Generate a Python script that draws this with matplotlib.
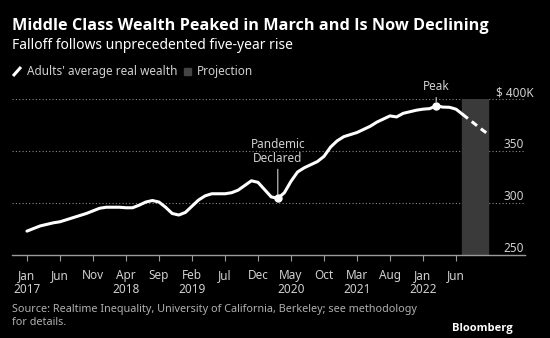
import numpy as np
import matplotlib
matplotlib.use("Agg")
import matplotlib.pyplot as plt
from matplotlib.lines import Line2D
from matplotlib.patches import Rectangle

plt.rcParams['font.family'] = ['Noto Sans', 'DejaVu Sans']

# Moyenne mensuelle de la richesse reelle (milliers de $), jan 2017 -> jul 2022
richesse = [273, 275.5, 278, 279.5, 281, 282, 284, 286, 288, 290,
            292.5, 295, 296, 296, 296, 295.5, 295.5, 298, 301, 302.5,
            301, 296, 290, 288.5, 291, 297, 303, 307, 309, 309,
            309, 310, 312.5, 317, 321.5, 320, 313, 306, 304.5, 310,
            321, 330, 334, 337, 340, 345, 354, 360, 364, 366,
            368, 371, 374, 378, 381, 384, 383, 386.5, 388, 389.5,
            390.5, 391, 393.7, 392.5, 392.3, 390.5, 385.5]
# Projection jul -> nov 2022
projection = [385.5, 380.5, 375.5, 370.5, 365.8]

mois = np.arange(len(richesse))
mois_proj = np.arange(len(richesse) - 1, len(richesse) - 1 + len(projection))

debut_proj, fin_proj = 66, 70
mois_pandemie = 38
mois_pic = 62

graduations = [0, 5, 10, 15, 20, 25, 30, 35, 40, 45, 50, 55, 60, 65]
etiquettes = ["Jan\n2017", "Jun", "Nov", "Apr\n2018", "Sep", "Feb\n2019", "Jul",
              "Dec", "May\n2020", "Oct", "Mar\n2021", "Aug", "Jan\n2022", "Jun"]
niveaux = [250, 300, 350, 400]
textes_niveaux = ["250", "300", "350", "$ 400K"]

fond = "black"
gris_texte = "#d0d0d0"

fig = plt.figure(figsize=(5.5, 3.38), dpi=100, facecolor=fond)
ax = fig.add_axes([0.0218, 0.2456, 0.9327, 0.4606], facecolor=fond)

ax.set_xlim(-2.27, 75.45)
ax.set_ylim(250, 400)

# zone de projection
ax.axvspan(debut_proj - 0.05, fin_proj - 0.2, color="#3a3a3a", zorder=1)

# grille pointillee
for v in niveaux[1:]:
    ax.axhline(v, color="#8a8a8a", lw=0.8, ls=(0, (1, 2)), zorder=0)

ax.plot(mois, richesse, color="white", lw=2.2, solid_capstyle="round", zorder=3)
ax.plot(mois_proj, projection, color="white", lw=2.2, ls=(0, (2.2, 1.6)), zorder=3)

# annotations
ax.plot([mois_pandemie], [richesse[mois_pandemie]], "o", color="white", ms=5, zorder=4)
ax.plot([mois_pic], [richesse[mois_pic]], "o", color="white", ms=5, zorder=4)
ax.annotate("Pandemic\nDeclared", xy=(mois_pandemie, richesse[mois_pandemie]),
            xytext=(0, 24), textcoords="offset points", ha="center", va="bottom",
            color=gris_texte, fontsize=8.5, linespacing=1.1,
            arrowprops=dict(arrowstyle="-", color=gris_texte, lw=0.8, shrinkA=1, shrinkB=3),
            annotation_clip=False)
ax.annotate("Peak", xy=(mois_pic, richesse[mois_pic]),
            xytext=(0, 9), textcoords="offset points", ha="center", va="bottom",
            color=gris_texte, fontsize=8.5,
            arrowprops=dict(arrowstyle="-", color=gris_texte, lw=0.8, shrinkA=1, shrinkB=3),
            annotation_clip=False)

# etiquettes de l'axe y au-dessus des lignes
for v, t in zip(niveaux, textes_niveaux):
    x = 0.998
    if t.endswith("K"):
        x = 1.016
    ax.text(x, v, t, transform=ax.get_yaxis_transform(), ha="right", va="bottom",
            color=gris_texte, fontsize=8.5)
ax.set_yticks([])

ax.set_xticks(graduations)
ax.set_xticklabels(etiquettes, color=gris_texte, fontsize=8.5, linespacing=1.12)
ax.tick_params(axis="x", colors="#9a9a9a", length=4, width=0.8, pad=6,
               labelcolor=gris_texte)
for s in ["top", "left", "right"]:
    ax.spines[s].set_visible(False)
ax.spines["bottom"].set_color("#9a9a9a")
ax.spines["bottom"].set_linewidth(1.0)

# titres
fig.text(0.022, 0.922, "Middle Class Wealth Peaked in March and Is Now Declining",
         color="white", fontsize=11.7, fontweight="bold", va="center",
         family=["Open Sans", "DejaVu Sans"])
fig.text(0.022, 0.866, "Falloff follows unprecedented five-year rise",
         color="white", fontsize=10, va="center")

# legende
fig.add_artist(Line2D([13 / 550, 21 / 550], [1 - 76 / 338, 1 - 67 / 338],
                      color="white", lw=2.2, solid_capstyle="butt"))
fig.text(27 / 550, 1 - 71.5 / 338, "Adults' average real wealth", color=gris_texte,
         fontsize=8.5, va="center")
fig.add_artist(Rectangle((184 / 550, 1 - 75 / 338), 7 / 550, 7 / 338,
                         color="#444444", transform=fig.transFigure))
fig.text(197 / 550, 1 - 71.5 / 338, "Projection", color=gris_texte,
         fontsize=8.5, va="center")

# source
fig.text(0.022, 1 - 304 / 338,
         "Source: Realtime Inequality, University of California, Berkeley; see methodology\nfor details.",
         color="#b0b0b0", fontsize=7.8, va="top", linespacing=1.25)
fig.text(0.932, 1 - 328 / 338, "Bloomberg", color="white", fontsize=8,
         fontweight="bold", ha="right", va="center", family=["Open Sans", "DejaVu Sans"])

fig.savefig("out.png", dpi=100, facecolor=fond)
